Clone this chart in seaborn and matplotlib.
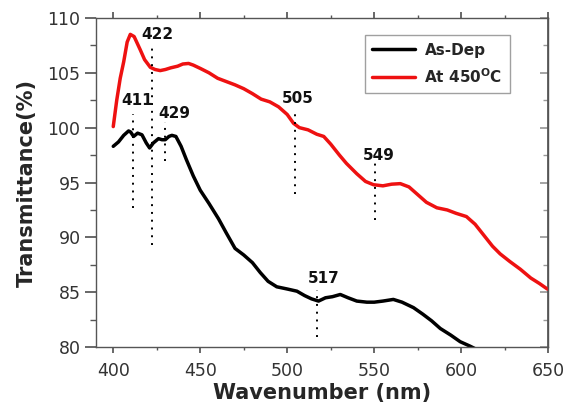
import matplotlib
matplotlib.use("Agg")
import matplotlib.pyplot as plt
from matplotlib.ticker import MultipleLocator
import seaborn as sns
import pandas as pd

# ---------------------------------------------------------------------------
# Data (wavelength in nm, transmittance in %)
# ---------------------------------------------------------------------------
asdep_x = [400, 403, 406, 408.8, 410, 411.7, 414, 416.5, 419, 420.9, 423, 426, 428,
           429.9, 432, 433.7, 436, 439, 442, 446, 450, 455, 460.5, 465, 470, 475,
           480, 484.5, 489, 494, 500, 505.6, 510, 514, 518, 522, 526, 530.5, 535,
           540, 545.8, 550, 555, 561, 566, 572.6, 578, 583, 588, 594, 599.4, 605, 610]
asdep_y = [98.3, 98.7, 99.3, 99.7, 99.6, 99.2, 99.5, 99.35, 98.6, 98.15, 98.6, 99.0, 98.9,
           98.9, 99.2, 99.3, 99.2, 98.3, 97.1, 95.6, 94.3, 93.1, 91.7, 90.4, 89.0, 88.4,
           87.7, 86.8, 86.0, 85.5, 85.3, 85.1, 84.7, 84.4, 84.2, 84.5, 84.6, 84.8, 84.5,
           84.2, 84.1, 84.1, 84.2, 84.35, 84.1, 83.6, 83.0, 82.4, 81.7, 81.1, 80.5, 80.1, 79.7]

ann450_x = [400, 402, 404, 406, 408, 409.8, 412, 415.5, 418, 421.3, 424, 427, 430, 433,
            437, 440, 443.3, 446, 450, 455, 460, 465, 470, 475, 480, 485, 490, 495, 500,
            503.6, 507, 512, 517, 521, 525, 530, 534, 540, 545, 549.6, 555, 560, 565, 570,
            575, 580, 586, 592, 597, 603, 608, 613, 618, 622.4, 628, 634, 640, 645, 649.5]
ann450_y = [100.1, 102.5, 104.5, 106.0, 107.8, 108.5, 108.3, 107.1, 106.2, 105.5, 105.3,
            105.2, 105.3, 105.45, 105.6, 105.8, 105.85, 105.7, 105.4, 105.0, 104.5, 104.2,
            103.9, 103.55, 103.1, 102.6, 102.35, 101.9, 101.2, 100.4, 100.0, 99.8, 99.4,
            99.2, 98.5, 97.5, 96.75, 95.8, 95.1, 94.8, 94.7, 94.85, 94.9, 94.6, 93.9, 93.2,
            92.7, 92.5, 92.2, 91.9, 91.2, 90.2, 89.2, 88.5, 87.8, 87.1, 86.3, 85.8, 85.3]

series_names = ["As-Dep", r"At 450$^\mathbf{O}$C"]

# marked band positions: label, line bottom, line top, label position
peak_labels = ["411", "422", "429", "505", "549", "517"]
peak_x = [411.5, 422, 429.5, 504.6, 550.3, 517.4]
peak_lo = [92.7, 89.3, 97.0, 94.0, 91.6, 80.9]
peak_hi = [101.2, 107.7, 100.5, 101.6, 96.8, 85.2]
label_x = [413.5, 425.5, 435, 506, 552.5, 521]
label_y = [102.5, 108.5, 101.3, 102.7, 97.5, 86.3]

df = pd.concat([
    pd.DataFrame({"wl": asdep_x, "T": asdep_y, "sample": series_names[0]}),
    pd.DataFrame({"wl": ann450_x, "T": ann450_y, "sample": series_names[1]}),
])

# ---------------------------------------------------------------------------
sns.set_theme(style="ticks")
plt.rcParams["font.family"] = ["DejaVu Sans"]
plt.rcParams["mathtext.fontset"] = "dejavusans"

fig, ax = plt.subplots(figsize=(5.74, 4.07), dpi=100)
fig.subplots_adjust(left=0.167, right=0.955, top=0.956, bottom=0.147)

sns.lineplot(data=df, x="wl", y="T", hue="sample", palette=["black", "#ee1111"],
             sort=False, estimator=None, linewidth=2.5, ax=ax)

for lab, px, lo, hi, lx, ly in zip(peak_labels, peak_x, peak_lo, peak_hi, label_x, label_y):
    ax.plot([px, px], [lo, hi], color="black", linestyle=(0, (1, 3)), linewidth=1.4)
    ax.text(lx, ly, lab, ha="center", va="center", fontsize=11, fontweight="bold",
            color="#111111")

ax.set_xlim(390, 650)
ax.set_ylim(80, 110)
ax.xaxis.set_major_locator(MultipleLocator(50))
ax.xaxis.set_minor_locator(MultipleLocator(25))
ax.yaxis.set_major_locator(MultipleLocator(5))
ax.yaxis.set_minor_locator(MultipleLocator(2.5))

for s in ax.spines.values():
    s.set_color("#555555")
    s.set_linewidth(1.0)

ax.tick_params(which="both", direction="out", color="#555555", top=True, right=False,
               labelsize=12.5, labelcolor="#333333")
ax.tick_params(axis="x", which="major", length=4, pad=7)
ax.tick_params(axis="x", which="minor", length=2.5)
ax.tick_params(axis="y", which="major", length=8, pad=3)
ax.tick_params(axis="y", which="minor", length=4.5)

sec = ax.secondary_yaxis("right")
sec.yaxis.set_major_locator(MultipleLocator(5))
sec.yaxis.set_minor_locator(MultipleLocator(2.5))
sec.tick_params(which="both", direction="in", labelright=False, color="#999999")
sec.tick_params(which="major", length=6)
sec.tick_params(which="minor", length=3.5)
sec.spines["right"].set_color("#555555")

ax.set_xlabel("Wavenumber (nm)", fontsize=15, fontweight="bold", labelpad=2)
ax.set_ylabel("Transmittance(%)", fontsize=15, fontweight="bold", labelpad=8)

leg = ax.legend(title=None, loc="upper right", bbox_to_anchor=(0.916, 0.948),
                frameon=True, fancybox=False, edgecolor="#888888",
                prop={"weight": "bold", "size": 11}, handlelength=2.8,
                handletextpad=0.6, borderpad=0.5, labelspacing=0.6,
                borderaxespad=0.0)
leg.get_frame().set_linewidth(1.0)

fig.savefig("out.png", dpi=100)
